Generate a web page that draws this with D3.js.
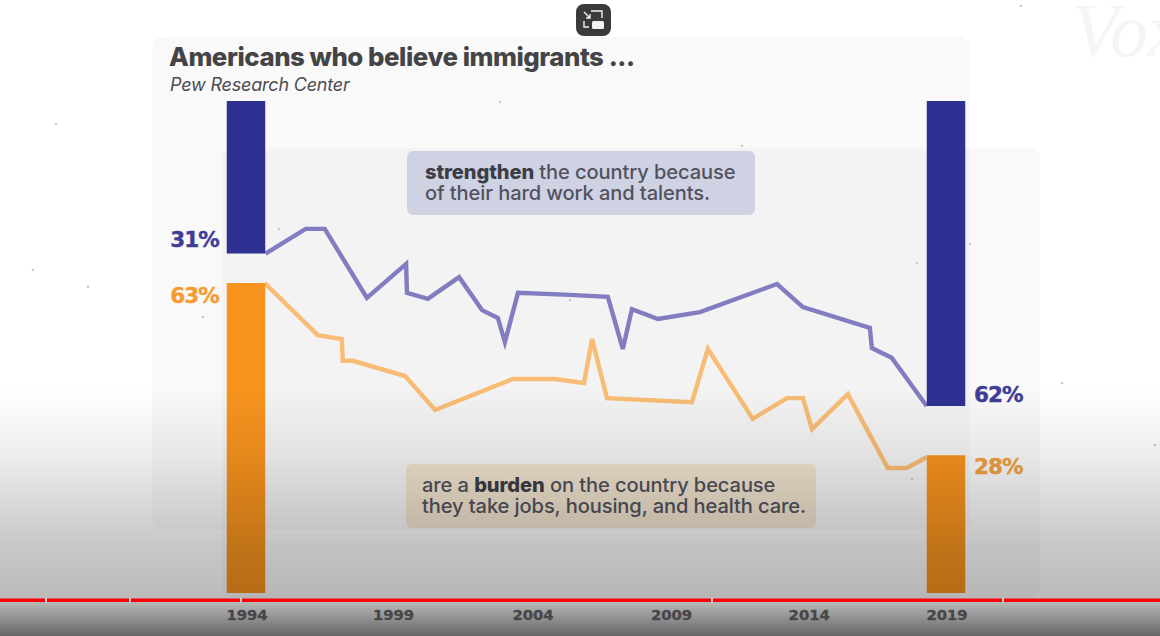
<!DOCTYPE html>
<html lang="en">
<head>
  <meta charset="utf-8">
  <title>Americans who believe immigrants</title>
  <style>
    html, body { margin:0; padding:0; background:#fff; overflow:hidden; }
    svg { display:block; }
    text { font-family:Inter, "Open Sans", sans-serif; }
    .note { font-size:20.1px; font-weight:500; fill:#52525e; letter-spacing:-0.1px; }
    .note tspan.strong { font-weight:800; fill:#3d3d46; }
    .pct { font-family:"DejaVu Sans", sans-serif; font-size:21.5px; font-weight:700; letter-spacing:-0.9px; stroke-width:0.4px; }
    .tick text { font-family:"DejaVu Sans", sans-serif; font-size:14.8px; font-weight:700; fill:#47474a; stroke:#47474a; stroke-width:0.35px; }
  </style>
</head>
<body>
  <script src="https://cdnjs.cloudflare.com/ajax/libs/d3/7.8.5/d3.min.js"></script>
  <script>
    var title = "Americans who believe immigrants ...";
    var source = "Pew Research Center";

    var tickYears = [1994, 1999, 2004, 2009, 2014, 2019];
    var barYears = [1994, 2019];
    var barStrengthen = [31, 62];
    var barBurden = [63, 28];

    // survey dates are not evenly spaced
    var strengthenYears = [1994.65, 1996.02, 1996.67, 1998.11, 1999.47, 1999.5, 2000.25, 2001.37, 2002.19, 2002.76, 2003.01, 2003.48, 2005.35, 2006.72, 2007.26, 2007.59, 2008.53, 2010.05, 2012.85, 2013.79, 2016.22, 2016.29, 2017.01, 2018.28];
    var strengthenValues = [31, 26, 26, 40, 33.1, 39, 40.2, 35.8, 42.5, 44.1, 49, 39, 39.4, 39.8, 50.4, 42.3, 44.3, 42.9, 37.2, 41.9, 46.1, 50.2, 52.2, 62];
    var burdenYears = [1994.62, 1996.43, 1997.25, 1997.29, 1997.63, 1999.43, 2000.51, 2003.3, 2004.81, 2005.86, 2006.15, 2006.69, 2009.76, 2010.34, 2011.97, 2013.21, 2013.79, 2014.12, 2015.42, 2016.87, 2017.56, 2018.28];
    var burdenValues = [63, 52.4, 51.6, 47.2, 47.2, 44.1, 37.2, 43.5, 43.5, 42.7, 51.6, 39.6, 38.8, 49.6, 35.4, 39.6, 39.6, 33.3, 40.4, 25.4, 25.4, 27.6];

    var blueBar = "#2e3192", orangeBar = "#f7931e";
    var blueLine = "#827cc0", orangeLine = "#f8bc74";

    var w = 1160, h = 636, barW = 38.5;

    // the year labels in the video are not quite evenly spaced
    var x = d3.scaleLinear().domain(tickYears).range([246.5, 393, 532.5, 671, 808.7, 946.5]);
    // both bars share one scale: blue hangs from the top, orange stands on the bottom
    var y = d3.scaleLinear().domain([0, 100]).range([101, 593]);

    var svg = d3.select("body").append("svg").attr("width", w).attr("height", h);
    var defs = svg.append("defs");

    var shade = defs.append("linearGradient").attr("id", "shade").attr("x1", 0).attr("x2", 0).attr("y1", 0).attr("y2", 1);
    shade.append("stop").attr("offset", 0.61).attr("stop-color", "#000").attr("stop-opacity", 0);
    shade.append("stop").attr("offset", 0.72).attr("stop-color", "#000").attr("stop-opacity", 0.075);
    shade.append("stop").attr("offset", 0.86).attr("stop-color", "#000").attr("stop-opacity", 0.22);
    shade.append("stop").attr("offset", 0.945).attr("stop-color", "#000").attr("stop-opacity", 0.27);
    shade.append("stop").attr("offset", 1).attr("stop-color", "#000").attr("stop-opacity", 0.6);

    // background cards
    svg.append("rect").attr("x", 152).attr("y", 37).attr("width", 818).attr("height", 493).attr("rx", 10)
        .attr("fill", "#000").attr("fill-opacity", 0.024);
    svg.append("rect").attr("x", 222).attr("y", 148).attr("width", 818).attr("height", 450).attr("rx", 10)
        .attr("fill", "#000").attr("fill-opacity", 0.024);

    // watermark
    svg.append("text").attr("x", 1072).attr("y", 56).text("Vox")
        .style("font-family", "'Liberation Serif', serif").style("font-style", "italic")
        .style("font-size", "76px").attr("fill", "#f5f5f5");

    // specks of the paper texture
    var speckX = [56, 33, 88, 203, 500, 742, 917, 1021, 1062, 1155, 279, 570, 970, 912];
    var speckY = [124, 270, 287, 317, 102, 146, 263, 6, 383, 445, 229, 300, 244, 479];
    svg.selectAll(".speck").data(speckX).enter().append("circle").attr("class", "speck")
        .attr("cx", function(d) { return d; })
        .attr("cy", function(d, i) { return speckY[i]; })
        .attr("r", 1.3).attr("fill", "#cacaca");

    svg.append("text").attr("x", 169).attr("y", 66).text(title)
        .attr("fill", "#444446").style("font-size", "25.8px").style("font-weight", 800).style("letter-spacing", "-0.45px");
    svg.append("text").attr("x", 170).attr("y", 91).text(source)
        .attr("fill", "#4c4c50").style("font-size", "18px").style("font-style", "italic").style("font-weight", 400).style("letter-spacing", "-0.2px");

    // callouts
    svg.append("rect").attr("x", 407).attr("y", 151).attr("width", 348).attr("height", 64).attr("rx", 6).attr("fill", "#cfd2e3");
    svg.append("rect").attr("x", 406).attr("y", 464).attr("width", 410).attr("height", 64).attr("rx", 6).attr("fill", "#efe2cd");

    var n1 = svg.append("text").attr("class", "note").attr("x", 425).attr("y", 179);
    n1.append("tspan").attr("class", "strong").text("strengthen");
    n1.append("tspan").text(" the country because");
    svg.append("text").attr("class", "note").attr("x", 425).attr("y", 200).text("of their hard work and talents.");
    var n2 = svg.append("text").attr("class", "note").attr("x", 422).attr("y", 492);
    n2.append("tspan").text("are a ");
    n2.append("tspan").attr("class", "strong").text("burden");
    n2.append("tspan").text(" on the country because");
    svg.append("text").attr("class", "note").attr("x", 422).attr("y", 513).text("they take jobs, housing, and health care.");

    // lines
    var blueLineGen = d3.line().x(function(d, i) { return x(strengthenYears[i]); }).y(function(d) { return y(d); });
    var orangeLineGen = d3.line().x(function(d, i) { return x(burdenYears[i]); }).y(function(d) { return y(100 - d); });
    svg.append("path").datum(strengthenValues).attr("d", blueLineGen)
        .attr("fill", "none").attr("stroke", blueLine).attr("stroke-width", 4.4);
    svg.append("path").datum(burdenValues).attr("d", orangeLineGen)
        .attr("fill", "none").attr("stroke", orangeLine).attr("stroke-width", 4.4);

    // bars
    svg.selectAll(".blue").data(barStrengthen).enter().append("rect").attr("class", "blue")
        .attr("x", function(d, i) { return x(barYears[i]) - barW / 2 - 0.5; })
        .attr("y", y(0))
        .attr("width", barW)
        .attr("height", function(d) { return y(d) - y(0); })
        .attr("fill", blueBar);
    svg.selectAll(".orange").data(barBurden).enter().append("rect").attr("class", "orange")
        .attr("x", function(d, i) { return x(barYears[i]) - barW / 2 - 0.5; })
        .attr("y", function(d) { return y(100 - d); })
        .attr("width", barW)
        .attr("height", function(d) { return y(100) - y(100 - d); })
        .attr("fill", orangeBar);

    // percent labels
    svg.append("text").attr("class", "pct").attr("x", 219).attr("y", 247).attr("text-anchor", "end")
        .attr("fill", "#3f3d96").attr("stroke", "#3f3d96").text(barStrengthen[0] + "%");
    svg.append("text").attr("class", "pct").attr("x", 219).attr("y", 303).attr("text-anchor", "end")
        .attr("fill", "#f59c31").attr("stroke", "#f59c31").text(barBurden[0] + "%");
    svg.append("text").attr("class", "pct").attr("x", 974).attr("y", 402)
        .attr("fill", "#3f3d96").attr("stroke", "#3f3d96").text(barStrengthen[1] + "%");
    svg.append("text").attr("class", "pct").attr("x", 974).attr("y", 474)
        .attr("fill", "#f0a040").attr("stroke", "#f0a040").text(barBurden[1] + "%");

    // video player darkening over everything
    svg.append("rect").attr("width", w).attr("height", h).attr("fill", "url(#shade)");

    // year axis, drawn above the shading
    var axis = d3.axisBottom(x).tickValues(tickYears).tickSize(0).tickPadding(0).tickFormat(d3.format("d"));
    svg.append("g").attr("transform", "translate(0,609)").call(axis)
        .call(function(g) { g.select(".domain").remove(); });

    // player progress bar with chapter notches
    var chapterMarks = [45, 129, 240, 711, 1002];
    svg.append("rect").attr("x", 0).attr("y", 598.5).attr("width", w).attr("height", 3.5).attr("fill", "#fb0208");
    svg.selectAll(".mark").data(chapterMarks).enter().append("rect").attr("class", "mark")
        .attr("x", function(d) { return d; })
        .attr("y", 597.5).attr("width", 2).attr("height", 5).attr("fill", "#d4d0cf");

    // picture-in-picture button
    var btn = svg.append("g").attr("transform", "translate(576,4)");
    btn.append("rect").attr("width", 35).attr("height", 32).attr("rx", 8).attr("fill", "#3a3a3c");
    btn.append("path").attr("d", "M15 7H26V14M8 17V23H13M8 8L14 14M14 10V14H10")
        .attr("fill", "none").attr("stroke", "#f2f2f2").attr("stroke-width", 1.4);
    btn.append("rect").attr("x", 16).attr("y", 17).attr("width", 12).attr("height", 8).attr("rx", 1.5).attr("fill", "#f2f2f2");
  </script>
</body>
</html>
